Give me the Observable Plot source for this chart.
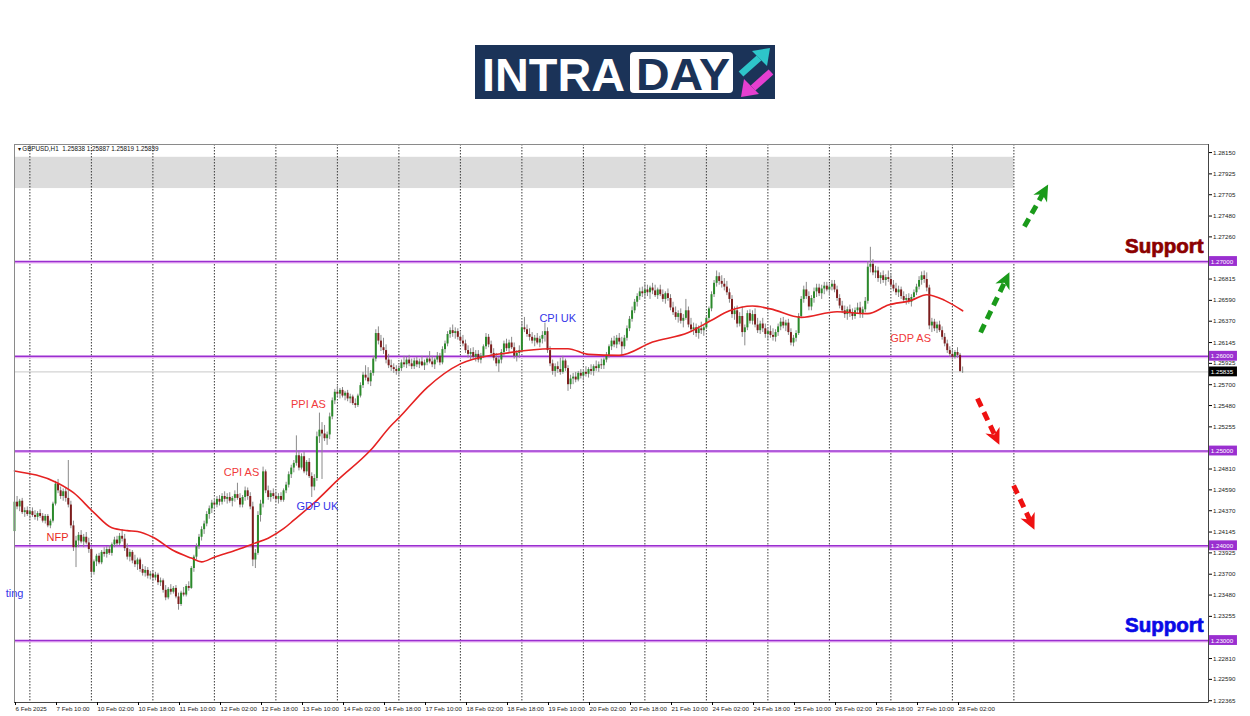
<!DOCTYPE html>
<html><head><meta charset="utf-8">
<script src="https://cdn.jsdelivr.net/npm/d3@7"></script>
<script src="https://cdn.jsdelivr.net/npm/@observablehq/plot@0.6"></script>
<style>
html,body{margin:0;padding:0;background:#fff;width:1250px;height:716px;overflow:hidden;font-family:"Liberation Sans",Arial,sans-serif;}
#head{position:relative;height:140px;}
#logo{position:absolute;left:475px;top:40px;}
#chart svg{display:block;}
</style></head><body>
<div id="head">
<svg id="logo" width="300" height="66" viewBox="0 0 300 66">
<rect y="5" width="300" height="54" fill="#1b3358"/>
<text x="7" y="51" font-family="Liberation Sans, Arial" font-weight="bold" font-size="46" fill="#fff" textLength="143" lengthAdjust="spacingAndGlyphs">INTRA</text>
<rect x="155" y="12" width="103" height="41" rx="4" fill="#fff"/>
<text x="161" y="50" font-family="Liberation Sans, Arial" font-weight="bold" font-size="45" fill="#1b3358" textLength="94" lengthAdjust="spacingAndGlyphs">DAY</text>
<line x1="266" y1="34" x2="284" y2="18" stroke="#2ec5c9" stroke-width="7"/>
<polygon points="295,8 277,11 292,26" fill="#2ec5c9"/>
<line x1="296" y1="32" x2="278" y2="48" stroke="#e53fd0" stroke-width="7"/>
<polygon points="266,57 269,39 284,54" fill="#e53fd0"/>
</svg>
</div>
<div id="chart"></div>
<script>
// ---- candle data (GBPUSD H1, bar index 0 = 6 Feb 18:00) ----
const opens = [
1.2415,1.2446,1.2441,1.2447,1.2435,1.2437,1.2433,1.2436,1.2432,1.2430,
1.2434,1.2431,1.2426,1.2431,1.2421,1.2426,1.2444,1.2465,1.2458,1.2452,
1.2457,1.2450,1.2443,1.2421,1.2398,1.2405,1.2411,1.2404,1.2409,1.2403,
1.2396,1.2372,1.2383,1.2389,1.2382,1.2393,1.2391,1.2396,1.2392,1.2401,
1.2406,1.2402,1.2410,1.2407,1.2397,1.2388,1.2393,1.2384,1.2380,1.2385,
1.2375,1.2371,1.2374,1.2368,1.2370,1.2366,1.2369,1.2361,1.2363,1.2353,
1.2345,1.2354,1.2351,1.2355,1.2346,1.2338,1.2350,1.2348,1.2357,1.2355,
1.2376,1.2388,1.2399,1.2409,1.2417,1.2423,1.2433,1.2439,1.2445,1.2443,
1.2449,1.2446,1.2452,1.2449,1.2451,1.2447,1.2450,1.2454,1.2450,1.2443,
1.2451,1.2458,1.2452,1.2441,1.2385,1.2392,1.2432,1.2444,1.2478,1.2458,
1.2451,1.2455,1.2452,1.2449,1.2452,1.2448,1.2458,1.2464,1.2475,1.2482,
1.2487,1.2495,1.2482,1.2494,1.2478,1.2488,1.2473,1.2462,1.2471,1.2515,
1.2522,1.2518,1.2513,1.2517,1.2536,1.2553,1.2562,1.2560,1.2564,1.2558,
1.2561,1.2555,1.2557,1.2550,1.2548,1.2558,1.2569,1.2580,1.2577,1.2573,
1.2582,1.2597,1.2624,1.2616,1.2609,1.2606,1.2596,1.2590,1.2588,1.2586,
1.2584,1.2587,1.2593,1.2591,1.2596,1.2592,1.2589,1.2595,1.2591,1.2594,
1.2590,1.2593,1.2597,1.2594,1.2591,1.2596,1.2600,1.2593,1.2607,1.2613,
1.2623,1.2627,1.2624,1.2626,1.2620,1.2616,1.2613,1.2606,1.2602,1.2604,
1.2599,1.2602,1.2596,1.2600,1.2610,1.2620,1.2612,1.2603,1.2598,1.2592,
1.2596,1.2604,1.2613,1.2608,1.2614,1.2609,1.2600,1.2603,1.2606,1.2630,
1.2628,1.2623,1.2620,1.2616,1.2619,1.2614,1.2618,1.2622,1.2626,1.2606,
1.2592,1.2584,1.2589,1.2586,1.2583,1.2595,1.2587,1.2570,1.2576,1.2578,
1.2575,1.2582,1.2579,1.2583,1.2581,1.2586,1.2584,1.2589,1.2587,1.2591,
1.2590,1.2596,1.2601,1.2610,1.2616,1.2612,1.2619,1.2615,1.2610,1.2619,
1.2629,1.2639,1.2648,1.2657,1.2663,1.2668,1.2666,1.2670,1.2667,1.2672,
1.2669,1.2664,1.2670,1.2665,1.2660,1.2666,1.2661,1.2651,1.2646,1.2641,
1.2645,1.2637,1.2640,1.2648,1.2633,1.2628,1.2630,1.2624,1.2629,1.2627,
1.2630,1.2640,1.2650,1.2665,1.2677,1.2684,1.2679,1.2676,1.2673,1.2667,
1.2660,1.2644,1.2648,1.2634,1.2642,1.2625,1.2630,1.2645,1.2637,1.2644,
1.2633,1.2627,1.2634,1.2629,1.2623,1.2626,1.2622,1.2620,1.2625,1.2631,
1.2636,1.2632,1.2635,1.2625,1.2614,1.2619,1.2624,1.2642,1.2660,1.2670,
1.2663,1.2652,1.2661,1.2668,1.2672,1.2666,1.2671,1.2674,1.2670,1.2673,
1.2676,1.2670,1.2661,1.2653,1.2648,1.2644,1.2649,1.2645,1.2642,1.2648,
1.2651,1.2644,1.2649,1.2658,1.2694,1.2697,1.2688,1.2690,1.2682,1.2685,
1.2680,1.2683,1.2681,1.2675,1.2671,1.2667,1.2670,1.2663,1.2659,1.2661,
1.2657,1.2662,1.2667,1.2673,1.2680,1.2685,1.2681,1.2672,1.2632,1.2636,
1.2629,1.2633,1.2627,1.2620,1.2613,1.2606,1.2602,1.2599,1.2604,1.2601,
1.25838];
const highs = [
1.2449,1.2452,1.2449,1.2450,1.2440,1.2441,1.2438,1.2440,1.2437,1.2436,
1.2438,1.2434,1.2433,1.2433,1.2428,1.2446,1.2468,1.2470,1.2462,1.2460,
1.2461,1.2490,1.2447,1.2426,1.2410,1.2414,1.2416,1.2412,1.2414,1.2408,
1.2398,1.2385,1.2391,1.2392,1.2395,1.2398,1.2399,1.2400,1.2403,1.2409,
1.2410,1.2413,1.2417,1.2412,1.2402,1.2396,1.2395,1.2390,1.2387,1.2387,
1.2380,1.2378,1.2377,1.2373,1.2374,1.2372,1.2371,1.2366,1.2365,1.2358,
1.2356,1.2359,1.2357,1.2358,1.2350,1.2352,1.2356,1.2359,1.2362,1.2378,
1.2390,1.2402,1.2412,1.2420,1.2426,1.2436,1.2442,1.2448,1.2450,1.2452,
1.2453,1.2455,1.2457,1.2455,1.2456,1.2452,1.2458,1.2466,1.2455,1.2453,
1.2462,1.2461,1.2456,1.2446,1.2396,1.2436,1.2448,1.2483,1.2480,1.2463,
1.2458,1.2460,1.2457,1.2455,1.2456,1.2460,1.2467,1.2478,1.2485,1.2490,
1.2516,1.2500,1.2497,1.2499,1.2490,1.2492,1.2477,1.2475,1.2520,1.2540,
1.2530,1.2527,1.2520,1.2540,1.2556,1.2565,1.2568,1.2566,1.2567,1.2563,
1.2564,1.2560,1.2559,1.2555,1.2560,1.2572,1.2583,1.2590,1.2588,1.2585,
1.2600,1.2628,1.2631,1.2622,1.2619,1.2612,1.2602,1.2596,1.2592,1.2590,
1.2590,1.2596,1.2600,1.2599,1.2601,1.2597,1.2598,1.2599,1.2597,1.2600,
1.2596,1.2600,1.2605,1.2600,1.2598,1.2604,1.2603,1.2610,1.2616,1.2626,
1.2630,1.2633,1.2630,1.2629,1.2625,1.2622,1.2617,1.2611,1.2608,1.2609,
1.2606,1.2606,1.2603,1.2612,1.2624,1.2623,1.2616,1.2608,1.2603,1.2599,
1.2607,1.2616,1.2618,1.2617,1.2620,1.2614,1.2606,1.2611,1.2636,1.2641,
1.2633,1.2629,1.2625,1.2622,1.2624,1.2621,1.2626,1.2635,1.2630,1.2610,
1.2596,1.2592,1.2594,1.2598,1.2600,1.2597,1.2590,1.2580,1.2582,1.2583,
1.2584,1.2586,1.2586,1.2589,1.2588,1.2591,1.2591,1.2595,1.2594,1.2597,
1.2598,1.2604,1.2612,1.2619,1.2621,1.2622,1.2624,1.2620,1.2622,1.2632,
1.2642,1.2652,1.2660,1.2666,1.2672,1.2673,1.2676,1.2675,1.2674,1.2677,
1.2675,1.2672,1.2675,1.2670,1.2668,1.2671,1.2665,1.2657,1.2652,1.2648,
1.2650,1.2644,1.2660,1.2652,1.2640,1.2635,1.2634,1.2632,1.2636,1.2633,
1.2642,1.2652,1.2668,1.2680,1.2690,1.2688,1.2685,1.2682,1.2679,1.2671,
1.2664,1.2652,1.2653,1.2646,1.2652,1.2633,1.2648,1.2649,1.2648,1.2650,
1.2640,1.2637,1.2640,1.2634,1.2630,1.2632,1.2629,1.2628,1.2634,1.2640,
1.2641,1.2638,1.2639,1.2629,1.2622,1.2627,1.2645,1.2663,1.2674,1.2678,
1.2668,1.2664,1.2672,1.2676,1.2676,1.2675,1.2678,1.2678,1.2676,1.2680,
1.2680,1.2674,1.2665,1.2658,1.2653,1.2652,1.2654,1.2650,1.2651,1.2656,
1.2657,1.2652,1.2662,1.2700,1.2715,1.2702,1.2695,1.2694,1.2688,1.2690,
1.2686,1.2690,1.2686,1.2680,1.2677,1.2674,1.2673,1.2668,1.2665,1.2666,
1.2665,1.2670,1.2676,1.2684,1.2689,1.2690,1.2688,1.2675,1.2640,1.2639,
1.2636,1.2637,1.2631,1.2624,1.2617,1.2610,1.2607,1.2606,1.2609,1.2603,
1.25887];
const lows = [
1.2411,1.2438,1.2436,1.2433,1.2430,1.2431,1.2428,1.2430,1.2427,1.2426,
1.2429,1.2424,1.2423,1.2419,1.2418,1.2424,1.2442,1.2455,1.2449,1.2447,
1.2446,1.2440,1.2418,1.2394,1.2377,1.2398,1.2402,1.2398,1.2401,1.2392,
1.2367,1.2369,1.2378,1.2380,1.2380,1.2388,1.2387,1.2390,1.2389,1.2398,
1.2399,1.2400,1.2404,1.2394,1.2385,1.2383,1.2381,1.2377,1.2374,1.2372,
1.2368,1.2367,1.2365,1.2364,1.2362,1.2363,1.2358,1.2357,1.2350,1.2342,
1.2343,1.2348,1.2349,1.2344,1.2332,1.2336,1.2346,1.2346,1.2352,1.2354,
1.2372,1.2385,1.2396,1.2405,1.2412,1.2420,1.2428,1.2434,1.2438,1.2440,
1.2442,1.2443,1.2446,1.2444,1.2445,1.2441,1.2446,1.2448,1.2440,1.2440,
1.2447,1.2448,1.2438,1.2378,1.2376,1.2390,1.2425,1.2440,1.2455,1.2448,
1.2446,1.2449,1.2446,1.2444,1.2446,1.2446,1.2455,1.2461,1.2471,1.2477,
1.2484,1.2479,1.2480,1.2476,1.2474,1.2471,1.2451,1.2458,1.2468,1.2508,
1.2470,1.2510,1.2506,1.2512,1.2533,1.2549,1.2557,1.2555,1.2556,1.2553,
1.2552,1.2550,1.2548,1.2545,1.2546,1.2556,1.2566,1.2574,1.2570,1.2568,
1.2579,1.2594,1.2612,1.2605,1.2602,1.2592,1.2587,1.2584,1.2582,1.2580,
1.2580,1.2584,1.2588,1.2587,1.2589,1.2586,1.2586,1.2588,1.2587,1.2589,
1.2585,1.2590,1.2592,1.2588,1.2586,1.2593,1.2590,1.2591,1.2603,1.2610,
1.2619,1.2620,1.2618,1.2617,1.2612,1.2610,1.2603,1.2598,1.2596,1.2597,
1.2594,1.2593,1.2592,1.2598,1.2607,1.2609,1.2600,1.2595,1.2589,1.2583,
1.2592,1.2600,1.2605,1.2603,1.2607,1.2597,1.2594,1.2598,1.2604,1.2625,
1.2620,1.2616,1.2613,1.2610,1.2612,1.2609,1.2613,1.2615,1.2603,1.2589,
1.2580,1.2578,1.2582,1.2580,1.2581,1.2584,1.2563,1.2565,1.2570,1.2572,
1.2573,1.2576,1.2574,1.2578,1.2577,1.2580,1.2579,1.2584,1.2583,1.2586,
1.2586,1.2593,1.2598,1.2606,1.2609,1.2608,1.2612,1.2600,1.2607,1.2616,
1.2626,1.2636,1.2645,1.2652,1.2659,1.2662,1.2660,1.2663,1.2660,1.2665,
1.2662,1.2660,1.2663,1.2657,1.2655,1.2658,1.2648,1.2643,1.2638,1.2635,
1.2634,1.2630,1.2638,1.2630,1.2625,1.2622,1.2620,1.2618,1.2623,1.2621,
1.2628,1.2637,1.2647,1.2662,1.2673,1.2675,1.2672,1.2669,1.2664,1.2656,
1.2640,1.2638,1.2630,1.2631,1.2620,1.2611,1.2627,1.2634,1.2633,1.2630,
1.2624,1.2623,1.2625,1.2619,1.2617,1.2619,1.2616,1.2615,1.2621,1.2627,
1.2629,1.2626,1.2622,1.2611,1.2610,1.2615,1.2622,1.2640,1.2656,1.2660,
1.2648,1.2648,1.2656,1.2662,1.2663,1.2660,1.2665,1.2668,1.2664,1.2669,
1.2667,1.2658,1.2650,1.2645,1.2640,1.2638,1.2641,1.2638,1.2639,1.2644,
1.2640,1.2640,1.2646,1.2655,1.2688,1.2685,1.2682,1.2678,1.2676,1.2677,
1.2674,1.2678,1.2672,1.2668,1.2664,1.2662,1.2660,1.2656,1.2654,1.2655,
1.2652,1.2659,1.2664,1.2670,1.2675,1.2677,1.2668,1.2628,1.2625,1.2626,
1.2624,1.2625,1.2617,1.2610,1.2603,1.2599,1.2596,1.2597,1.2598,1.2583,
1.25819];
const closes = [
1.2446,1.2441,1.2447,1.2435,1.2437,1.2433,1.2436,1.2432,1.2430,1.2434,
1.2431,1.2426,1.2431,1.2421,1.2426,1.2444,1.2465,1.2458,1.2452,1.2457,
1.2450,1.2443,1.2421,1.2398,1.2405,1.2411,1.2404,1.2409,1.2403,1.2396,
1.2372,1.2383,1.2389,1.2382,1.2393,1.2391,1.2396,1.2392,1.2401,1.2406,
1.2402,1.2410,1.2407,1.2397,1.2388,1.2393,1.2384,1.2380,1.2385,1.2375,
1.2371,1.2374,1.2368,1.2370,1.2366,1.2369,1.2361,1.2363,1.2353,1.2345,
1.2354,1.2351,1.2355,1.2346,1.2338,1.2350,1.2348,1.2357,1.2355,1.2376,
1.2388,1.2399,1.2409,1.2417,1.2423,1.2433,1.2439,1.2445,1.2443,1.2449,
1.2446,1.2452,1.2449,1.2451,1.2447,1.2450,1.2454,1.2450,1.2443,1.2451,
1.2458,1.2452,1.2441,1.2385,1.2392,1.2432,1.2444,1.2478,1.2458,1.2451,
1.2455,1.2452,1.2449,1.2452,1.2448,1.2458,1.2464,1.2475,1.2482,1.2487,
1.2495,1.2482,1.2494,1.2478,1.2488,1.2473,1.2462,1.2471,1.2515,1.2522,
1.2518,1.2513,1.2517,1.2536,1.2553,1.2562,1.2560,1.2564,1.2558,1.2561,
1.2555,1.2557,1.2550,1.2548,1.2558,1.2569,1.2580,1.2577,1.2573,1.2582,
1.2597,1.2624,1.2616,1.2609,1.2606,1.2596,1.2590,1.2588,1.2586,1.2584,
1.2587,1.2593,1.2591,1.2596,1.2592,1.2589,1.2595,1.2591,1.2594,1.2590,
1.2593,1.2597,1.2594,1.2591,1.2596,1.2600,1.2593,1.2607,1.2613,1.2623,
1.2627,1.2624,1.2626,1.2620,1.2616,1.2613,1.2606,1.2602,1.2604,1.2599,
1.2602,1.2596,1.2600,1.2610,1.2620,1.2612,1.2603,1.2598,1.2592,1.2596,
1.2604,1.2613,1.2608,1.2614,1.2609,1.2600,1.2603,1.2606,1.2630,1.2628,
1.2623,1.2620,1.2616,1.2619,1.2614,1.2618,1.2622,1.2626,1.2606,1.2592,
1.2584,1.2589,1.2586,1.2583,1.2595,1.2587,1.2570,1.2576,1.2578,1.2575,
1.2582,1.2579,1.2583,1.2581,1.2586,1.2584,1.2589,1.2587,1.2591,1.2590,
1.2596,1.2601,1.2610,1.2616,1.2612,1.2619,1.2615,1.2610,1.2619,1.2629,
1.2639,1.2648,1.2657,1.2663,1.2668,1.2666,1.2670,1.2667,1.2672,1.2669,
1.2664,1.2670,1.2665,1.2660,1.2666,1.2661,1.2651,1.2646,1.2641,1.2645,
1.2637,1.2640,1.2648,1.2633,1.2628,1.2630,1.2624,1.2629,1.2627,1.2630,
1.2640,1.2650,1.2665,1.2677,1.2684,1.2679,1.2676,1.2673,1.2667,1.2660,
1.2644,1.2648,1.2634,1.2642,1.2625,1.2630,1.2645,1.2637,1.2644,1.2633,
1.2627,1.2634,1.2629,1.2623,1.2626,1.2622,1.2620,1.2625,1.2631,1.2636,
1.2632,1.2635,1.2625,1.2614,1.2619,1.2624,1.2642,1.2660,1.2670,1.2663,
1.2652,1.2661,1.2668,1.2672,1.2666,1.2671,1.2674,1.2670,1.2673,1.2676,
1.2670,1.2661,1.2653,1.2648,1.2644,1.2649,1.2645,1.2642,1.2648,1.2651,
1.2644,1.2649,1.2658,1.2694,1.2697,1.2688,1.2690,1.2682,1.2685,1.2680,
1.2683,1.2681,1.2675,1.2671,1.2667,1.2670,1.2663,1.2659,1.2661,1.2657,
1.2662,1.2667,1.2673,1.2680,1.2685,1.2681,1.2672,1.2632,1.2636,1.2629,
1.2633,1.2627,1.2620,1.2613,1.2606,1.2602,1.2599,1.2604,1.2601,1.2584,
1.25839];

// moving average: bar index and value
const maIndex = [0,17,23,31,38,44,48,54,62,69,73,78,86,93,99,105,109,118,126,139,147,150,161,174,186,191,209,216,224,236,249,263,272,279,288,295,307,321,333,341,350,356,363,370];
const maValue = [1.2479,1.2466,1.2456,1.2435,1.2419,1.2416,1.2415,1.2409,1.2395,1.2387,1.2383,1.2388,1.2395,1.2402,1.2408,1.2418,1.2427,1.2448,1.2469,1.2501,1.2527,1.2535,1.2567,1.2592,1.2601,1.2603,1.2608,1.2608,1.2602,1.2601,1.2615,1.2625,1.2638,1.2648,1.2653,1.2650,1.2641,1.2647,1.2645,1.2654,1.2659,1.2665,1.2659,1.2648];

// horizontal levels, zone, current price
const levels = [1.27, 1.26, 1.25, 1.24, 1.23];
const lastPrice = 1.25835;
const zoneLow = 1.2777, zoneHigh = 1.2810, zoneEndBar = 390;

// day separators (bar index of midnight)
const dayStarts = [6,30,54,78,102,126,150,174,198,222,246,270,294,318,342,366,390];

// axis ticks
const xTickIndex = [0,16,32,48,64,80,96,112,128,144,160,176,192,208,224,240,256,272,288,304,320,336,352,368];
const xTickLabels = ["6 Feb 2025","7 Feb 10:00","10 Feb 02:00","10 Feb 18:00","11 Feb 10:00","12 Feb 02:00","12 Feb 18:00","13 Feb 10:00","14 Feb 02:00","14 Feb 18:00","17 Feb 10:00","18 Feb 02:00","18 Feb 18:00","19 Feb 10:00","20 Feb 02:00","20 Feb 18:00","21 Feb 10:00","24 Feb 02:00","24 Feb 18:00","25 Feb 10:00","26 Feb 02:00","26 Feb 18:00","27 Feb 10:00","28 Feb 02:00"];
const yTickValues = [1.28150,1.27925,1.27705,1.27480,1.27260,1.26815,1.26590,1.26370,1.26145,1.25925,1.25700,1.25480,1.25255,1.24810,1.24590,1.24370,1.24145,1.23925,1.23700,1.23480,1.23255,1.22810,1.22590,1.22365];

// event labels
const eventNames = ["NFP","CPI AS","PPI AS","GDP UK","CPI UK","GDP AS","ting"];
const eventBars = [16.8, 88.6, 114.7, 118.2, 212, 349.7, 0];
const eventPrices = [1.2409, 1.24774, 1.25491, 1.24414, 1.26398, 1.26187, 1.2350];
const eventColors = ["#e82a22","#f03a3a","#f03a3a","#3535e8","#3535e8","#f03a3a","#3535e8"];

// support labels
const supportText = ["Support","Support"];
const supportPrices = [1.27158, 1.23158];
const supportColors = ["#8b0000","#0a0ae6"];

// scenario arrows: start bar/price -> end bar/price
const arrowX1 = [377.0, 394.1, 375.8, 389.9];
const arrowY1 = [1.26251, 1.27369, 1.25554, 1.24636];
const arrowX2 = [386.7, 401.6, 382.8, 396.5];
const arrowY2 = [1.26799, 1.27728, 1.25153, 1.24256];
const arrowColors = ["#1a9a1a","#1a9a1a","#ee1111","#ee1111"];

// ---- layout ----
const W = 1250, H = 576;
const mL = 14, mR = 42, mT = 4, mB = 14;
const xMax = 465.95;
const yMin = 1.22346, yMax = 1.28235;
const kx = (W - mL - mR) / xMax;
const ky = (H - mT - mB) / (yMax - yMin);

const candles = closes.map((c, i) => ({i, o: opens[i], h: highs[i], l: lows[i], c, up: c >= opens[i]}));
const ma = maIndex.map((i, k) => ({i, v: maValue[k]}));
const events = eventNames.map((label, k) => ({label, i: eventBars[k], p: eventPrices[k], color: eventColors[k]}));
const supports = supportText.map((t, k) => ({t, p: supportPrices[k], color: supportColors[k]}));
const arrows = arrowX1.map((x1, k) => {
  const dx = (arrowX2[k] - x1) * kx, dy = -(arrowY2[k] - arrowY1[k]) * ky;
  return {x1, y1: arrowY1[k], x2: arrowX2[k], y2: arrowY2[k], color: arrowColors[k], rot: Math.atan2(dx, -dy) * 180 / Math.PI};
});
const labelMap = new Map(xTickIndex.map((d, k) => [d, xTickLabels[k]]));
const dart = {draw(ctx, size) { const s = Math.sqrt(size); ctx.moveTo(0, -s); ctx.lineTo(s * 0.85, s * 0.75); ctx.lineTo(0, s * 0.25); ctx.lineTo(-s * 0.85, s * 0.75); ctx.closePath(); }};
const font = "Liberation Sans, Arial, sans-serif";

const chart = Plot.plot({
  width: W, height: H,
  marginLeft: mL, marginRight: mR, marginTop: mT, marginBottom: mB,
  x: {domain: [0, xMax]},
  y: {domain: [yMin, yMax]},
  style: {fontFamily: font, background: "#fff", overflow: "visible"},
  marks: [
    Plot.rect([{lo: zoneLow, hi: zoneHigh}], {x1: 0, x2: zoneEndBar, y1: "lo", y2: "hi", fill: "#dcdcdc"}),
    Plot.ruleX(dayStarts, {stroke: "#3a3a3a", strokeWidth: 1, strokeDasharray: "1.5,1.5"}),
    Plot.ruleY(levels, {stroke: "#e9b3f3", strokeWidth: 1.5, dy: 1.2}),
    Plot.ruleY(levels, {stroke: "#9a2fd0", strokeWidth: 1.6}),
    Plot.ruleY([lastPrice], {stroke: "#c8c8c8", strokeWidth: 1}),
    Plot.ruleX(candles, {x: "i", y1: "l", y2: "h", stroke: "#8a8a8a", strokeWidth: 1}),
    Plot.ruleX(candles, {x: "i", y1: "o", y2: "c", stroke: d => d.up ? "#2b8a2b" : "#7d1d1d", strokeWidth: 2}),
    Plot.line(ma, {x: "i", y: "v", stroke: "#e52222", strokeWidth: 1.6, curve: "monotone-x"}),
    Plot.text(events, {x: "i", y: "p", text: "label", fill: "color", fontSize: 11, textAnchor: d => d.i === 0 ? "start" : "middle"}),
    Plot.text(supports, {x: xMax - 1.9, y: "p", text: "t", fill: "color", stroke: "color", strokeWidth: 0.7, fontSize: 20.5, fontWeight: "bold", textAnchor: "end"}),
    Plot.link(arrows, {x1: "x1", y1: "y1", x2: "x2", y2: "y2", stroke: "color", strokeWidth: 5, strokeDasharray: "9,6"}),
    Plot.dot(arrows, {x: "x2", y: "y2", r: 5.2, symbol: dart, fill: "color", rotate: "rot"}),
    Plot.text(["\u25BE GBPUSD,H1  1.25838 1.25887 1.25819 1.25839"], {frameAnchor: "top-left", dx: 3, dy: 2, fontSize: 6.3, fill: "#111", textAnchor: "start", lineAnchor: "top"}),
    Plot.frame({stroke: "#8a8a8a"}),
    Plot.ruleX([xMax], {stroke: "#444"}),
    Plot.ruleY([yMin], {stroke: "#444"}),
    Plot.axisY(yTickValues, {anchor: "right", tickSize: 3, tickPadding: 1.5, tickFormat: d => d.toFixed(5), fontSize: 6.2, fill: "#222", label: null}),
    Plot.axisX(xTickIndex, {anchor: "bottom", tickSize: 3, tickPadding: 1, tickFormat: d => labelMap.get(d), textAnchor: "start", dx: 1, fontSize: 6.2, fill: "#222", label: null}),
    Plot.rect(levels, {x1: xMax + 0.4, x2: xMax + 11.3, y1: d => d - 0.00052, y2: d => d + 0.00052, fill: "#9a2fd0"}),
    Plot.text(levels, {x: xMax + 0.9, y: d => d, text: d => d.toFixed(5), textAnchor: "start", fill: "#fff", fontSize: 6.2}),
    Plot.rect([lastPrice], {x1: xMax + 0.4, x2: xMax + 11.3, y1: d => d - 0.00052, y2: d => d + 0.00052, fill: "#000"}),
    Plot.text([lastPrice], {x: xMax + 0.9, y: d => d, text: d => d.toFixed(5), textAnchor: "start", fill: "#fff", fontSize: 6.2})
  ]
});
document.getElementById("chart").appendChild(chart);
</script>
</body></html>
